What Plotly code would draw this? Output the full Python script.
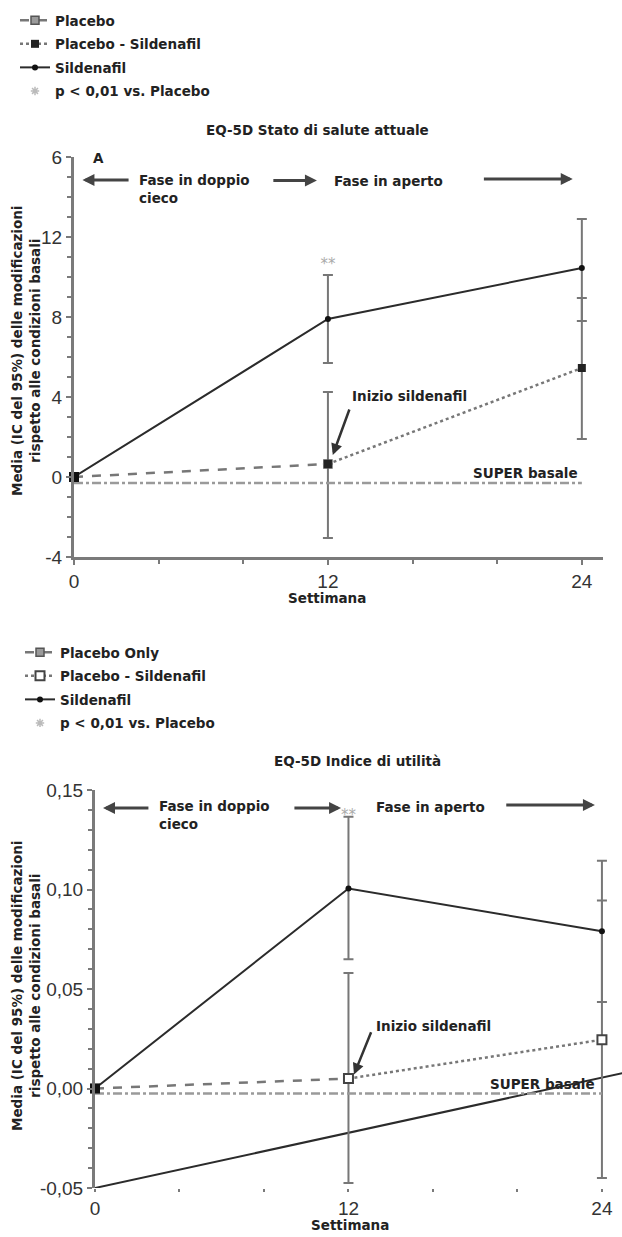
import plotly.graph_objects as go

# ---------------- data ----------------
weeks = [0, 12, 24]
weeks_dbl = [0, 12]
weeks_open = [12, 24]

# Panel A: EQ-5D Stato di salute attuale
a_sild = [0, 7.9, 10.45]
a_sild_hi = [0, 10.1, 12.9]
a_sild_lo = [0, 5.7, 7.8]
a_plac = [0, 0.65]
a_plac_hi = [0, 4.25]
a_plac_lo = [0, -3.05]
a_ps = [0.65, 5.45]
a_ps_hi = [0.65, 8.95]
a_ps_lo = [0.65, 1.9]
a_super = [-0.3, -0.3]
a_sig = [10.6]
a_yticks = [-4, 0, 4, 8, 12, 16]
a_yticktext = ["-4", "0", "4", "8", "12", "6"]

# Panel B: EQ-5D Indice di utilità
b_sild = [0, 0.1005, 0.079]
b_sild_hi = [0, 0.1365, 0.1145]
b_sild_lo = [0, 0.065, 0.0435]
b_plac = [0, 0.005]
b_plac_hi = [0, 0.058]
b_plac_lo = [0, -0.0475]
b_ps = [0.005, 0.0245]
b_ps_hi = [0.005, 0.0945]
b_ps_lo = [0.005, -0.045]
b_super = [-0.0025, -0.0025]
b_trend_x = [0, 25]
b_trend_y = [-0.05, 0.0078]
b_sig = [0.137]
b_yticks = [-0.05, 0, 0.05, 0.10, 0.15]
b_yticktext = ["-0,05", "0,00", "0,05", "0,10", "0,15"]

xticks = [0, 12, 24]
xminor = [4, 8, 16, 20]

DARK = "#2b2b2b"
GRAY = "#777777"
LGRAY = "#9a9a9a"
AXC = "#7a7a7a"
FONT = "Liberation Sans, Arial, sans-serif"
BFONT = "DejaVu Sans, sans-serif"


def err(v, hi, lo):
    return dict(type="data", symmetric=False,
                array=[h - x for h, x in zip(hi, v)],
                arrayminus=[x - l for x, l in zip(v, lo)],
                color=GRAY, thickness=2, width=5)


fig = go.Figure()

# ---------- Panel A ----------
fig.add_trace(go.Scatter(x=weeks_dbl, y=a_plac, mode="lines+markers", name="<b>Placebo</b>",
                         line=dict(color=GRAY, dash="dash", width=2.5),
                         marker=dict(symbol="square", size=8, color="#9a9a9a", line=dict(color="#555", width=1.5)),
                         error_y=err(a_plac, a_plac_hi, a_plac_lo), cliponaxis=False,
                         xaxis="x", yaxis="y", legend="legend", legendgroup="a1"))
fig.add_trace(go.Scatter(x=weeks_open, y=a_ps, mode="lines+markers", name="<b>Placebo - Sildenafil</b>",
                         line=dict(color=GRAY, dash="dot", width=2.5),
                         marker=dict(symbol="square", size=8, color="#222"),
                         error_y=err(a_ps, a_ps_hi, a_ps_lo), cliponaxis=False,
                         xaxis="x", yaxis="y", legend="legend", legendgroup="a2"))
fig.add_trace(go.Scatter(x=weeks, y=a_sild, mode="lines+markers", name="<b>Sildenafil</b>",
                         line=dict(color=DARK, width=2),
                         marker=dict(symbol="circle", size=6, color="#111"),
                         error_y=err(a_sild, a_sild_hi, a_sild_lo), cliponaxis=False,
                         xaxis="x", yaxis="y", legend="legend", legendgroup="a3"))
fig.add_trace(go.Scatter(x=[None], y=[None], mode="markers", name="<b>p < 0,01 vs. Placebo</b>",
                         marker=dict(symbol="asterisk-open", size=7, color="#bbbbbb", line=dict(width=1.5, color="#bbbbbb")),
                         xaxis="x", yaxis="y", legend="legend", legendgroup="a4"))
fig.add_trace(go.Scatter(x=[weeks[0], weeks[2]], y=a_super, mode="lines", showlegend=False,
                         line=dict(color=LGRAY, dash="dashdot", width=2.5), cliponaxis=False,
                         xaxis="x", yaxis="y"))
fig.add_trace(go.Scatter(x=[weeks[0]], y=[a_plac[0]], mode="markers", showlegend=False,
                         marker=dict(symbol="square", size=10, color="#111"), cliponaxis=False,
                         xaxis="x", yaxis="y"))
fig.add_trace(go.Scatter(x=[weeks[1]], y=a_sig, mode="text", text=["**"], showlegend=False,
                         textfont=dict(color="#aaaaaa", size=15, family=BFONT), cliponaxis=False,
                         xaxis="x", yaxis="y"))

# ---------- Panel B ----------
fig.add_trace(go.Scatter(x=b_trend_x, y=b_trend_y, mode="lines", showlegend=False,
                         line=dict(color=DARK, width=2), cliponaxis=False,
                         xaxis="x2", yaxis="y2"))
fig.add_trace(go.Scatter(x=weeks_dbl, y=b_plac, mode="lines+markers", name="<b>Placebo Only</b>",
                         line=dict(color=GRAY, dash="dash", width=2.5),
                         marker=dict(symbol="square", size=8, color="#9a9a9a", line=dict(color="#555", width=1.5)),
                         error_y=err(b_plac, b_plac_hi, b_plac_lo), cliponaxis=False,
                         xaxis="x2", yaxis="y2", legend="legend2", legendgroup="b1"))
fig.add_trace(go.Scatter(x=weeks_open, y=b_ps, mode="lines+markers", name="<b>Placebo - Sildenafil</b>",
                         line=dict(color=GRAY, dash="dot", width=2.5),
                         marker=dict(symbol="square", size=9, color="white", line=dict(color="#444", width=2)),
                         error_y=err(b_ps, b_ps_hi, b_ps_lo), cliponaxis=False,
                         xaxis="x2", yaxis="y2", legend="legend2", legendgroup="b2"))
fig.add_trace(go.Scatter(x=weeks, y=b_sild, mode="lines+markers", name="<b>Sildenafil</b>",
                         line=dict(color=DARK, width=2),
                         marker=dict(symbol="circle", size=6, color="#111"),
                         error_y=err(b_sild, b_sild_hi, b_sild_lo), cliponaxis=False,
                         xaxis="x2", yaxis="y2", legend="legend2", legendgroup="b3"))
fig.add_trace(go.Scatter(x=[None], y=[None], mode="markers", name="<b>p < 0,01 vs. Placebo</b>",
                         marker=dict(symbol="asterisk-open", size=7, color="#bbbbbb", line=dict(width=1.5, color="#bbbbbb")),
                         xaxis="x2", yaxis="y2", legend="legend2", legendgroup="b4"))
fig.add_trace(go.Scatter(x=[weeks[0], weeks[2]], y=b_super, mode="lines", showlegend=False,
                         line=dict(color=LGRAY, dash="dashdot", width=2.5), cliponaxis=False,
                         xaxis="x2", yaxis="y2"))
fig.add_trace(go.Scatter(x=[weeks[0]], y=[b_plac[0]], mode="markers", showlegend=False,
                         marker=dict(symbol="square", size=10, color="#111"), cliponaxis=False,
                         xaxis="x2", yaxis="y2"))
fig.add_trace(go.Scatter(x=[weeks[1]], y=b_sig, mode="text", text=["**"], showlegend=False,
                         textfont=dict(color="#aaaaaa", size=15, family=BFONT), cliponaxis=False,
                         xaxis="x2", yaxis="y2"))

W, H = 622, 1237

def px_x(p):
    return p / W

def px_y(p):
    return 1 - p / H

tickfont = dict(family=FONT, size=19, color="#333")

axis_common = dict(showgrid=False, zeroline=False, linecolor=AXC, linewidth=3, automargin=False,
                   ticks="outside", tickwidth=2, tickcolor=AXC, tickfont=tickfont)

legfont = dict(family=BFONT, size=13.5, color="#222")

layout = dict(
    width=W, height=H, margin=dict(l=0, r=0, t=0, b=0, pad=0, autoexpand=False),
    paper_bgcolor="white", plot_bgcolor="white",
    font=dict(family=FONT, color="#222"),
    xaxis=dict(domain=[px_x(74), px_x(603)], range=[0, 25], anchor="y", ticklen=5,
               tickvals=xticks, ticktext=[str(v) for v in xticks], showline=True,
               minor=dict(tickvals=xminor, ticks="outside", ticklen=4, tickwidth=2, tickcolor=AXC),
               **axis_common),
    yaxis=dict(domain=[px_y(557), px_y(157)], range=[-4, 16], anchor="x", ticklen=5,
               tickvals=a_yticks, ticktext=a_yticktext, showline=True,
               minor=dict(dtick=1, ticks="outside", ticklen=4, tickwidth=2, tickcolor=AXC),
               **axis_common),
    xaxis2=dict(domain=[px_x(95), 1.0], range=[0, 24.95], anchor="y2", ticklen=3,
                tickvals=xticks, ticktext=[str(v) for v in xticks], showline=False,
                minor=dict(tickvals=xminor, ticks="outside", ticklen=3, tickwidth=2, tickcolor=AXC),
                **axis_common),
    yaxis2=dict(domain=[px_y(1188), px_y(790)], range=[-0.05, 0.15], anchor="x2", ticklen=5,
                tickvals=b_yticks, ticktext=b_yticktext, showline=True,
                minor=dict(dtick=0.01, ticks="outside", ticklen=4, tickwidth=2, tickcolor=AXC),
                **axis_common),
    legend=dict(x=px_x(15), y=px_y(5), xanchor="left", yanchor="top",
                bgcolor="rgba(0,0,0,0)", font=legfont,
                tracegroupgap=3, traceorder="grouped"),
    legend2=dict(x=px_x(20), y=px_y(637), xanchor="left", yanchor="top",
                 bgcolor="rgba(0,0,0,0)", font=legfont,
                 tracegroupgap=3, traceorder="grouped"),
)

ann = []
bold = dict(family=BFONT, size=13.5, color="#222")

# titles / axis labels
ann.append(dict(text="<b>EQ-5D Stato di salute attuale</b>", x=px_x(317), y=px_y(130), xref="paper", yref="paper",
                showarrow=False, font=bold, xanchor="center", yanchor="middle"))
ann.append(dict(text="<b>EQ-5D Indice di utilità</b>", x=px_x(357), y=px_y(761), xref="paper", yref="paper",
                showarrow=False, font=bold, xanchor="center", yanchor="middle"))
ann.append(dict(text="<b>Settimana</b>", x=px_x(327), y=px_y(598), xref="paper", yref="paper",
                showarrow=False, font=bold, xanchor="center", yanchor="middle"))
ann.append(dict(text="<b>Settimana</b>", x=px_x(350), y=px_y(1225), xref="paper", yref="paper",
                showarrow=False, font=bold, xanchor="center", yanchor="middle"))
ytitle = "<b>Media (IC del 95%) delle modificazioni<br>rispetto alle condizioni basali</b>"
ann.append(dict(text=ytitle, x=px_x(26), y=px_y(351), xref="paper", yref="paper", textangle=-90,
                showarrow=False, font=bold, xanchor="center", yanchor="middle"))
ann.append(dict(text=ytitle, x=px_x(26), y=px_y(986), xref="paper", yref="paper", textangle=-90,
                showarrow=False, font=bold, xanchor="center", yanchor="middle"))


def panel_ann(xr, yr, a_txt, a_xy, dc_xy, ap_xy, arrows, ini_txt, ini_arrow, sup_xy):
    out = []
    out.append(dict(text="<b>%s</b>" % a_txt, x=a_xy[0], y=a_xy[1], xref=xr, yref=yr, showarrow=False,
                    font=bold, xanchor="left"))
    out.append(dict(text="<b>Fase in doppio<br>cieco</b>", x=dc_xy[0], y=dc_xy[1], xref=xr, yref=yr,
                    showarrow=False, font=bold, xanchor="left", yanchor="top", align="left"))
    out.append(dict(text="<b>Fase in aperto</b>", x=ap_xy[0], y=ap_xy[1], xref=xr, yref=yr,
                    showarrow=False, font=bold, xanchor="left"))
    for (tx, ty, hx, hy) in arrows:
        out.append(dict(text="", x=hx, y=hy, ax=tx, ay=ty, xref=xr, yref=yr, axref=xr, ayref=yr,
                        showarrow=True, arrowhead=2, arrowsize=0.8, arrowwidth=3, arrowcolor="#444",
                        standoff=0, startstandoff=0))
    out.append(dict(text="<b>Inizio sildenafil</b>", x=ini_txt[0], y=ini_txt[1], xref=xr, yref=yr,
                    showarrow=False, font=bold, xanchor="left"))
    tx, ty, hx, hy = ini_arrow
    out.append(dict(text="", x=hx, y=hy, ax=tx, ay=ty, xref=xr, yref=yr, axref=xr, ayref=yr,
                    showarrow=True, arrowhead=2, arrowsize=0.9, arrowwidth=2.5, arrowcolor="#333",
                    standoff=0, startstandoff=0))
    out.append(dict(text="<b>SUPER basale</b>", x=sup_xy[0], y=sup_xy[1], xref=xr, yref=yr,
                    showarrow=False, font=bold, xanchor="right"))
    return out

ann += panel_ann("x", "y", "A", (0.8, 15.95), (2.98, 15.35), (12.19, 14.8),
                 [(2.65, 14.85, 0.4, 14.85), (9.35, 14.82, 11.48, 14.82), (19.3, 14.9, 23.57, 14.9)],
                 (13.04, 4.05), (13.04, 3.45, 12.23, 1.1), (23.9, 0.2))
ann += panel_ann("x2", "y2", "B", (0.8, 0.1525), (2.93, 0.147), (13.2, 0.1415),
                 [(2.6, 0.141, 0.38, 0.141), (9.37, 0.141, 11.65, 0.141), (19.4, 0.1425, 23.67, 0.1425)],
                 (13.2, 0.0315), (13.1, 0.029, 12.26, 0.007), (23.76, 0.0025))

layout["annotations"] = ann
fig.update_layout(**layout)
fig.write_html("out.html", config={"displayModeBar": False},
               post_script="document.body.style.margin='0px';")
